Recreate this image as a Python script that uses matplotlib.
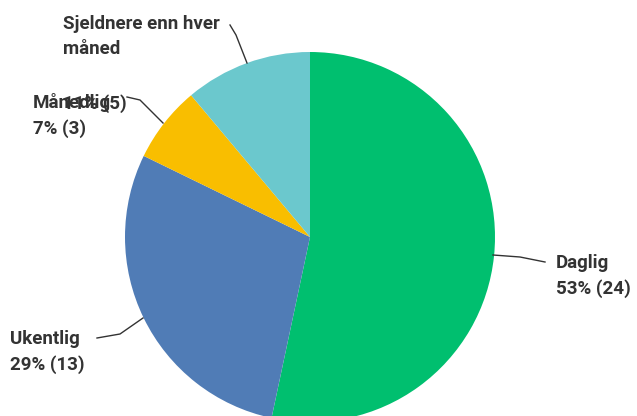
import matplotlib
matplotlib.use("Agg")
import matplotlib.pyplot as plt

# --- data -------------------------------------------------------------------
categories = ["Daglig", "Ukentlig", "Månedlig", "Sjeldnere enn hver\nmåned"]
counts = [24, 13, 3, 5]
colors = ["#00BF6F", "#507CB6", "#F9BE00", "#6BC8CD"]

W, H = 637, 416
fig = plt.figure(figsize=(W / 100, H / 100), dpi=100)
ax = fig.add_axes([0, 0, 1, 1])

# pie in pixel-like data coordinates (y measured from the bottom)
cx, cy, r = 310, H - 237, 185
wedges, _ = ax.pie(counts, colors=colors, startangle=90, counterclock=False,
                   center=(cx, cy), radius=r, frame=True,
                   wedgeprops=dict(linewidth=0))

ax.set_xlim(0, W)
ax.set_ylim(0, H)
ax.set_aspect("equal")
ax.axis("off")

total = sum(counts)
pct = [f"{round(100 * c / total)}% ({c})" for c in counts]

txt = dict(color="#333333", fontsize=13.5, family="Roboto", fontweight="bold",
           va="top", ha="left", linespacing=1.5)
line = dict(color="#333333", lw=1.0)

# label text positions (px, from top) and leader lines
ax.text(556, H - 254, f"{categories[0]}\n{pct[0]}", **txt)
ax.plot([493, 520, 545], [H - 255, H - 257, H - 262], **line)

ax.text(10, H - 330, f"{categories[1]}\n{pct[1]}", **txt)
ax.plot([97, 120, 143], [H - 338, H - 334, H - 318], **line)

ax.text(33, H - 93, f"{categories[2]}\n{pct[2]}", **txt)
ax.plot([127, 140, 163], [H - 97, H - 100, H - 123], **line)

ax.text(63, H - 15, categories[3], **txt)
ax.text(63, H - 94, pct[3], **txt)
ax.plot([230, 236, 247], [H - 25, H - 35, H - 63], **line)

fig.savefig("out.png", dpi=100)
